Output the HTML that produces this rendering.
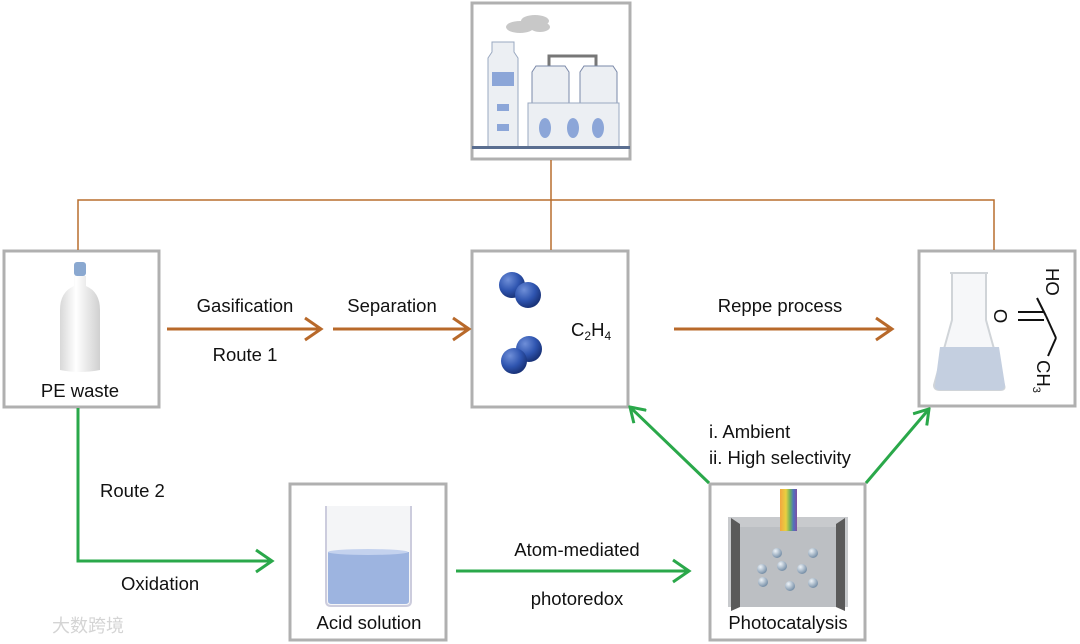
<!DOCTYPE html>
<html><head><meta charset="utf-8"><style>
html,body{margin:0;padding:0;background:#fff}
svg{display:block}
text{font-family:"Liberation Sans",sans-serif;font-size:18.5px;fill:#111}
</style></head><body>
<svg width="1080" height="644" viewBox="0 0 1080 644" xmlns="http://www.w3.org/2000/svg">
<defs>
<radialGradient id="ball" cx="35%" cy="30%" r="70%"><stop offset="0" stop-color="#6f8fd8"/><stop offset="0.6" stop-color="#2f55b0"/><stop offset="1" stop-color="#1a347a"/></radialGradient>
<radialGradient id="sb" cx="35%" cy="30%" r="70%"><stop offset="0" stop-color="#eef3f8"/><stop offset="1" stop-color="#7890a8"/></radialGradient>
<linearGradient id="bottle" x1="0" x2="1"><stop offset="0" stop-color="#d8d8d8"/><stop offset="0.4" stop-color="#fff"/><stop offset="1" stop-color="#d0d0d0"/></linearGradient>
<linearGradient id="rain" x1="0" x2="1"><stop offset="0" stop-color="#f2a640"/><stop offset="0.35" stop-color="#e8d040"/><stop offset="0.6" stop-color="#6ab060"/><stop offset="0.8" stop-color="#5070c0"/><stop offset="1" stop-color="#8050a0"/></linearGradient>
<marker id="gh" viewBox="0 0 20 20" refX="18" refY="10" markerWidth="20" markerHeight="20" markerUnits="userSpaceOnUse" orient="auto"><polyline points="4,1 18,10 4,19" fill="none" stroke="#2aa84a" stroke-width="3"/></marker>
</defs>
<g fill="none" stroke="#b0b0b0" stroke-width="3">
<rect x="472" y="3" width="158" height="156"/>
<rect x="4" y="251" width="155" height="156"/>
<rect x="472" y="251" width="156" height="156"/>
<rect x="919" y="251" width="156" height="155"/>
<rect x="290" y="484" width="156" height="156"/>
<rect x="710" y="484" width="155" height="156"/>
</g>
<g stroke="#b86e2e" stroke-width="1.5" fill="none">
<polyline points="78,250 78,200 994,200 994,250"/>
<line x1="551" y1="160" x2="551" y2="250"/>
</g>
<g stroke="#b8692a" stroke-width="3" fill="none">
<line x1="167" y1="329" x2="320" y2="329"/><polyline points="305,318 321,329 305,340"/>
<line x1="333" y1="329" x2="468" y2="329"/><polyline points="453,318 469,329 453,340"/>
<line x1="674" y1="329" x2="891" y2="329"/><polyline points="876,318 892,329 876,340"/>
</g>
<g stroke="#2aa84a" stroke-width="3" fill="none">
<polyline points="78,408 78,561 271,561"/><polyline points="256,550 272,561 256,572"/>
<line x1="456" y1="571" x2="688" y2="571"/><polyline points="673,560 689,571 673,582"/>
<line x1="709" y1="483" x2="630" y2="407" marker-end="url(#gh)"/>
<line x1="866" y1="483" x2="929" y2="409" marker-end="url(#gh)"/>
</g>
<!-- factory -->
<g fill="#c8c8c8"><ellipse cx="520" cy="27" rx="14" ry="6"/><ellipse cx="535" cy="21" rx="14" ry="6"/><ellipse cx="540" cy="27" rx="10" ry="5"/></g>
<path d="M488 147 V58 L492 52 V42 H514 V52 L518 58 V147 Z" fill="#eceff3" stroke="#9aa8c0"/>
<rect x="492" y="72" width="22" height="14" fill="#8ca6d8"/>
<rect x="497" y="104" width="12" height="7" fill="#8ca6d8"/>
<rect x="497" y="124" width="12" height="7" fill="#8ca6d8"/>
<polyline points="549,66 549,56 596,56 596,66" fill="none" stroke="#777" stroke-width="3"/>
<path d="M532 103 V72 L536 66 H565 L569 72 V103 Z" fill="#eceff3" stroke="#7a88a8"/>
<path d="M580 103 V72 L584 66 H613 L617 72 V103 Z" fill="#eceff3" stroke="#7a88a8"/>
<rect x="528" y="103" width="91" height="44" fill="#eceff3" stroke="#9aa8c0"/>
<ellipse cx="545" cy="128" rx="6" ry="10" fill="#8ca6d8"/>
<ellipse cx="573" cy="128" rx="6" ry="10" fill="#8ca6d8"/>
<ellipse cx="598" cy="128" rx="6" ry="10" fill="#8ca6d8"/>
<rect x="472" y="146" width="158" height="3" fill="#5a6e90"/>
<!-- bottle -->
<rect x="74" y="262" width="12" height="14" rx="3" fill="#8aa8d0"/>
<path d="M74 276 H86 V286 Q100 292 100 310 V370 Q80 374 60 370 V310 Q60 292 74 286Z" fill="url(#bottle)"/>
<text x="80" y="397" text-anchor="middle">PE waste</text>
<!-- C2H4 -->
<circle cx="512" cy="285" r="13" fill="url(#ball)"/><circle cx="528" cy="295" r="13" fill="url(#ball)"/>
<circle cx="529" cy="349" r="13" fill="url(#ball)"/><circle cx="514" cy="361" r="13" fill="url(#ball)"/>
<text x="571" y="336">C<tspan font-size="12" dy="4">2</tspan><tspan dy="-4">H</tspan><tspan font-size="12" dy="4">4</tspan></text>
<!-- flask -->
<path d="M950 273 H988 M952 274 V320 L934 385 Q934 390 940 390 H1000 Q1006 390 1004 385 L986 320 V274" fill="#f6f7f9" stroke="#d0d4d8" stroke-width="2"/>
<path d="M940 347 H999 L1005 385 Q1005 390 1000 390 H940 Q934 390 935 385Z" fill="#c4cfe0"/>
<g stroke="#111" stroke-width="2" fill="none">
<line x1="1037" y1="298" x2="1046" y2="316"/>
<line x1="1046" y1="316" x2="1056" y2="338"/>
<line x1="1056" y1="338" x2="1048" y2="356"/>
<line x1="1044" y1="312" x2="1018" y2="312"/><line x1="1044" y1="320" x2="1018" y2="320"/>
</g>
<text transform="translate(1046,268) rotate(90)" font-size="16">HO</text>
<text transform="translate(999,316) rotate(90)" font-size="16" text-anchor="middle" dy="5">O</text>
<text transform="translate(1037,360) rotate(90)" font-size="16">CH<tspan font-size="11" dy="4">3</tspan></text>
<!-- beaker -->
<path d="M326 506 V601 Q326 606 331 606 H406 Q411 606 411 601 V506" fill="#f4f5f7" stroke="#ccd" stroke-width="2"/>
<path d="M328 552 H409 V601 Q409 604 405 604 H332 Q328 604 328 601Z" fill="#9db4e0"/>
<ellipse cx="368" cy="552" rx="40" ry="3" fill="#c4d2ee"/>
<text x="369" y="629" text-anchor="middle">Acid solution</text>
<!-- photocatalysis -->
<rect x="728" y="517" width="120" height="90" fill="#c8cacd"/>
<rect x="737" y="527" width="102" height="80" fill="#bcbfc3"/>
<path d="M731 518 L740 524 V607 L731 611Z" fill="#5a5a5a"/>
<path d="M845 518 L836 524 V607 L845 611Z" fill="#5a5a5a"/>
<rect x="780" y="489" width="17" height="42" fill="url(#rain)"/>
<g fill="url(#sb)">
<circle cx="777" cy="553" r="5"/><circle cx="813" cy="553" r="5"/>
<circle cx="762" cy="569" r="5"/><circle cx="782" cy="566" r="5"/><circle cx="802" cy="569" r="5"/>
<circle cx="763" cy="582" r="5"/><circle cx="790" cy="586" r="5"/><circle cx="813" cy="583" r="5"/>
</g>
<text x="788" y="629" text-anchor="middle">Photocatalysis</text>
<!-- labels -->
<text x="245" y="312" text-anchor="middle">Gasification</text>
<text x="245" y="361" text-anchor="middle">Route 1</text>
<text x="392" y="312" text-anchor="middle">Separation</text>
<text x="780" y="312" text-anchor="middle">Reppe process</text>
<text x="100" y="497">Route 2</text>
<text x="121" y="590">Oxidation</text>
<text x="577" y="556" text-anchor="middle">Atom-mediated</text>
<text x="577" y="605" text-anchor="middle">photoredox</text>
<text x="709" y="438">i. Ambient</text>
<text x="709" y="464">ii. High selectivity</text>
<text x="52" y="632" style="font-family:'Liberation Sans','Noto Sans CJK SC',sans-serif;font-size:18px;fill:#d4d4d4">大数跨境</text>
</svg>
</body></html>
